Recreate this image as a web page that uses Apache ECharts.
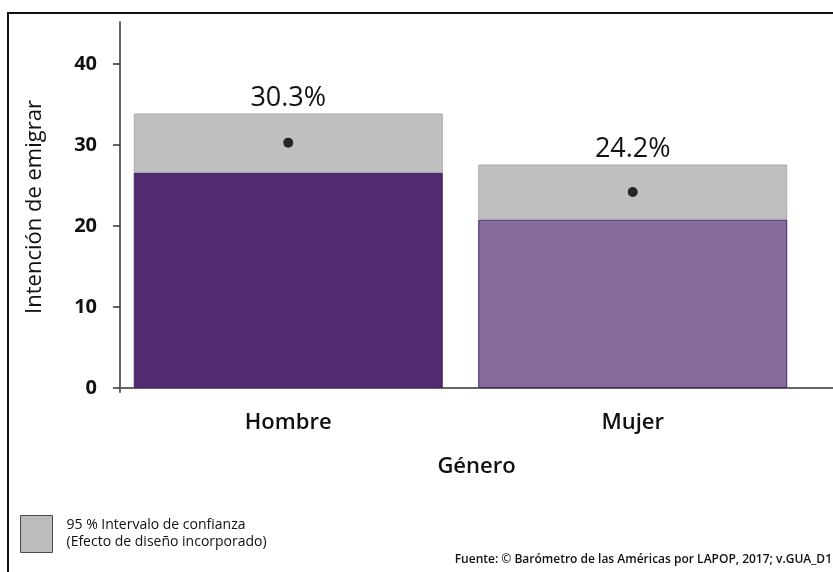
<!DOCTYPE html>
<html>
<head>
<meta charset="utf-8">
<script src="https://cdn.jsdelivr.net/npm/echarts@6/dist/echarts.min.js"></script>
<style>
  html, body { margin: 0; padding: 0; background: #fff; }
  #chart { width: 833px; height: 572px; }
</style>
</head>
<body>
<div id="chart"></div>
<script>
// Intención de emigrar por género, con intervalo de confianza al 95 %
const categories = ['Hombre', 'Mujer'];
const means = [30.3, 24.2];
const lowerCI = [26.6, 20.8];
const upperCI = [33.9, 27.6];
const barColors = ['#522a6f', '#866c9c'];
const yTicks = [0, 10, 20, 30, 40];

const FONT = '"Open Sans", "Noto Sans", sans-serif';

const chart = echarts.init(document.getElementById('chart'), null, { renderer: 'canvas' });

const gridTop = 22;
const gridHeight = 370;
const yMin = -0.5;
const yMax = 45.2;

const option = {
  animation: false,
  backgroundColor: '#ffffff',
  textStyle: { fontFamily: FONT },
  grid: [
    // plotting area for the bars and points
    { left: 116, width: 689, top: gridTop, height: gridHeight },
    // area that carries the axis frame lines
    { left: 120, right: 0, top: gridTop, height: gridHeight }
  ],
  legend: {
    left: 20,
    top: 515,
    padding: 0,
    icon: 'rect',
    itemWidth: 32,
    itemHeight: 37,
    itemGap: 0,
    selectedMode: false,
    data: [{ name: 'IC', itemStyle: { color: '#bcbcbc', borderColor: '#4a4a4a', borderWidth: 1 } }],
    formatter: () => '95 % Intervalo de confianza\n(Efecto de diseño incorporado)',
    textStyle: { fontFamily: FONT, fontSize: 14, lineHeight: 17, color: '#111', padding: [0, 0, 0, 9] }
  },
  xAxis: [
    {
      type: 'category',
      gridIndex: 0,
      data: categories,
      axisLine: { show: false },
      axisTick: { show: false },
      axisLabel: { margin: 20, fontSize: 22, fontWeight: 600, color: '#111', fontFamily: FONT }
    },
    {
      type: 'value',
      gridIndex: 1,
      min: 0,
      max: 1,
      name: 'Género',
      nameLocation: 'middle',
      nameGap: 64,
      nameTextStyle: { fontSize: 22, fontWeight: 600, color: '#111', fontFamily: FONT },
      axisLine: { show: true, lineStyle: { color: '#666', width: 2 } },
      axisTick: { show: false },
      axisLabel: { show: false },
      splitLine: { show: false }
    }
  ],
  yAxis: [
    {
      type: 'value',
      gridIndex: 0,
      min: yMin,
      max: yMax,
      show: false,
      splitLine: { show: false }
    },
    {
      type: 'value',
      gridIndex: 1,
      min: yMin,
      max: yMax,
      name: 'Intención de emigrar',
      nameLocation: 'middle',
      nameGap: 74,
      nameTextStyle: { fontSize: 22, color: '#111', fontFamily: FONT },
      axisLine: { show: true, lineStyle: { color: '#666', width: 2 } },
      axisTick: { show: true, length: 7, customValues: yTicks, lineStyle: { color: '#333', width: 1.5 } },
      axisLabel: { margin: 23, customValues: yTicks, fontSize: 20, fontWeight: 'bold', color: '#111', fontFamily: FONT },
      splitLine: { show: false }
    }
  ],
  series: [
    {
      name: 'base',
      type: 'bar',
      xAxisIndex: 0,
      yAxisIndex: 0,
      stack: 'ic',
      barWidth: 309,
      data: lowerCI.map((v, i) => ({
        value: v,
        itemStyle: { color: barColors[i], borderColor: '#4a2566', borderWidth: 1 }
      }))
    },
    {
      name: 'IC',
      type: 'bar',
      xAxisIndex: 0,
      yAxisIndex: 0,
      stack: 'ic',
      barWidth: 309,
      itemStyle: { color: '#bfbfbf', borderColor: '#aaaaaa', borderWidth: 1 },
      data: upperCI.map((u, i) => +(u - lowerCI[i]).toFixed(2)),
      label: {
        show: true,
        position: 'top',
        distance: 2,
        formatter: (p) => means[p.dataIndex].toFixed(1) + '%',
        fontSize: 27,
        color: '#111',
        fontFamily: FONT
      }
    },
    {
      name: 'media',
      type: 'scatter',
      xAxisIndex: 0,
      yAxisIndex: 0,
      symbol: 'circle',
      symbolSize: 10,
      itemStyle: { color: '#000' },
      data: means,
      z: 5
    }
  ],
  graphic: [
    {
      type: 'rect',
      shape: { x: 8, y: 13, width: 900, height: 700 },
      style: { fill: 'none', stroke: '#111', lineWidth: 2 },
      silent: true,
      z: -1
    },
    {
      type: 'text',
      right: 1,
      top: 554,
      style: {
        text: 'Fuente: © Barómetro de las Américas por LAPOP, 2017; v.GUA_D1',
        font: '600 12px ' + FONT,
        fill: '#111'
      }
    }
  ]
};

chart.setOption(option);
</script>
</body>
</html>
